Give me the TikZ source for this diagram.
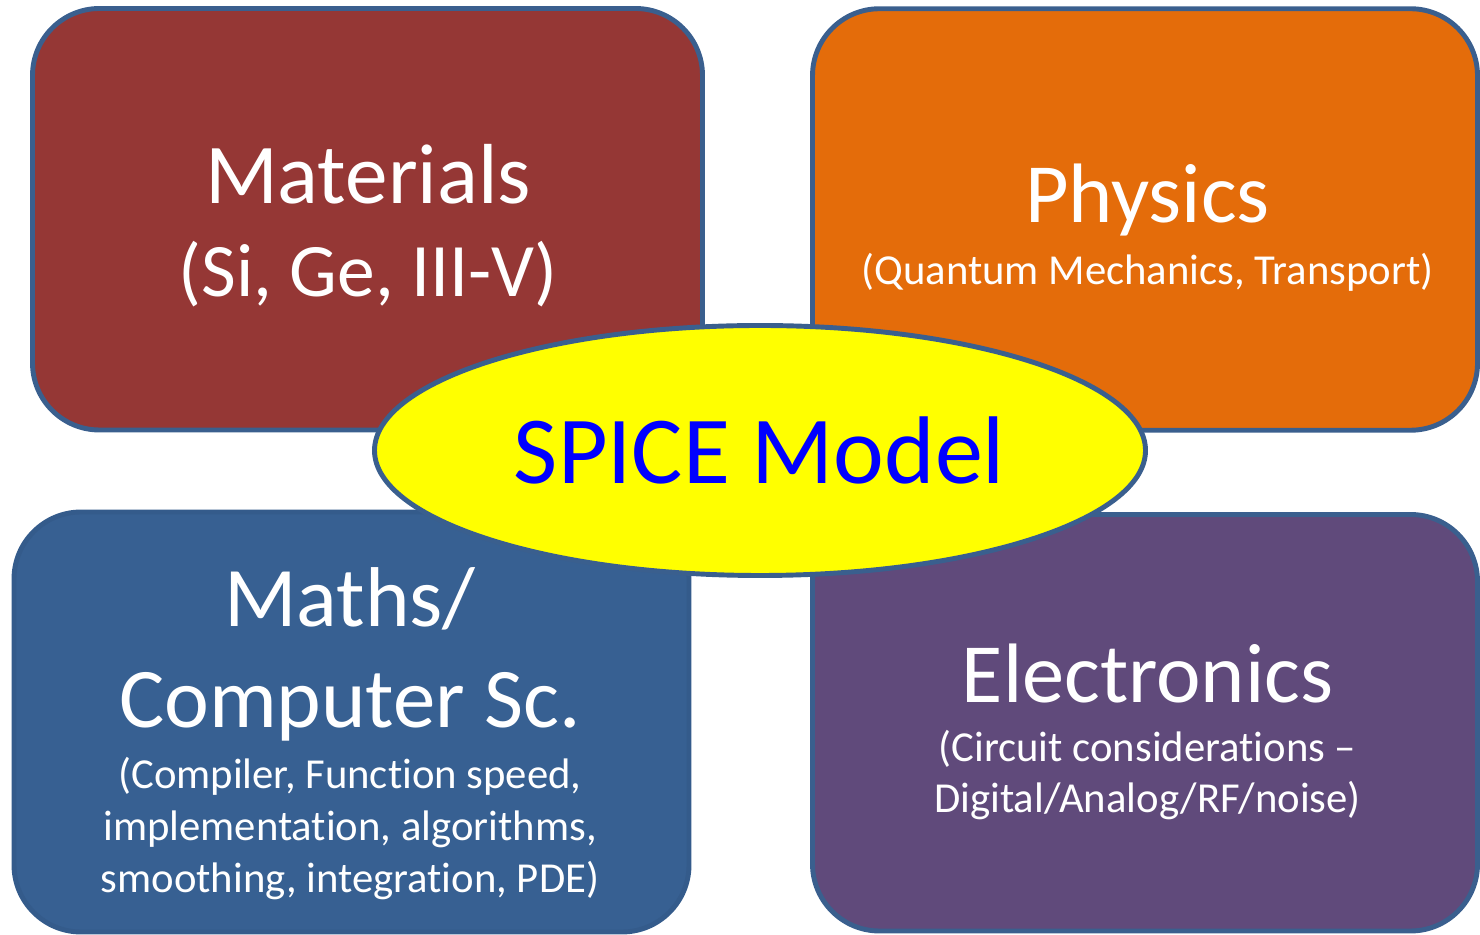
\documentclass[tikz,border=0pt]{standalone}
\usepackage{fontspec}
\setmainfont{Carlito}[Ligatures={TeX,NoCommon}]
\usepackage{xcolor}
\usetikzlibrary{shapes.geometric}
\definecolor{matred}{HTML}{953735}
\definecolor{phyorange}{HTML}{E46C0A}
\definecolor{mthblue}{HTML}{376092}
\definecolor{elepurple}{HTML}{604A7B}
\definecolor{edgeblue}{HTML}{3A5F8E}
\definecolor{spiceyellow}{RGB}{255,255,0}
\definecolor{spiceblue}{RGB}{0,0,255}

\begin{document}
\begin{tikzpicture}[
 x=1cm,y=1cm,
 area/.style={draw=edgeblue,line width=2.8pt,rounded corners=1.34cm,
              inner sep=0pt,minimum height=8.43cm},
 head/.style={text=white,anchor=base,align=center,font=\fontsize{48.5}{57}\selectfont},
 sub/.style={text=white,anchor=base,align=center,font=\fontsize{24.3}{28.8}\selectfont}]
\useasboundingbox (0,0) rectangle (29.6,18.68);
\node[area,fill=matred,minimum width=13.4cm] (materials) at (7.35,14.295) {};
\node[area,fill=phyorange,minimum width=13.3cm] (physics) at (22.9,14.29) {};
\node[area,fill=mthblue,draw=mthblue!95!black,minimum width=13.5cm,minimum height=8.4cm] (maths) at (7.03,4.24) {};
\node[area,fill=elepurple,minimum width=13.3cm,minimum height=8.33cm] (electronics) at (22.9,4.225) {};
\node[ellipse,draw=edgeblue,line width=2.8pt,fill=spiceyellow,inner sep=0pt,
      minimum width=15.42cm,minimum height=5cm] (spice) at (15.2,9.67) {};
% labels (base of the last line)
\node[head] (mattitle) at (7.36,14.6) {Materials};
\node[head,font=\fontsize{43}{52}\selectfont] (matsub) at (7.36,12.74) {(Si, Ge, III-V)};
\node[head,font=\fontsize{48}{57}\selectfont] (phytitle) at (22.95,14.22) {Physics};
\node[sub] (physub) at (22.95,12.98) {(Quantum Mechanics, Transport)};
\node[text=spiceblue,anchor=base,font=\fontsize{54.7}{64}\selectfont] (spicetitle) at (15.19,9.0) {SPICE Model};
\node[head,font=\fontsize{48.3}{58}\selectfont] (mthtitle) at (7.0,4.12) {Maths/\\Computer Sc.};
\node[sub,font=\fontsize{24.3}{29.4}\selectfont] (mthsub) at (7.0,0.84) {(Compiler, Function speed,\\implementation, algorithms,\\smoothing, integration, PDE)};
\node[head,font=\fontsize{48}{57}\selectfont] (eletitle) at (22.95,4.62) {Electronics};
\node[sub] (elesub) at (22.95,2.44) {(Circuit considerations --\\Digital/Analog/RF/noise)};
\end{tikzpicture}
\end{document}
